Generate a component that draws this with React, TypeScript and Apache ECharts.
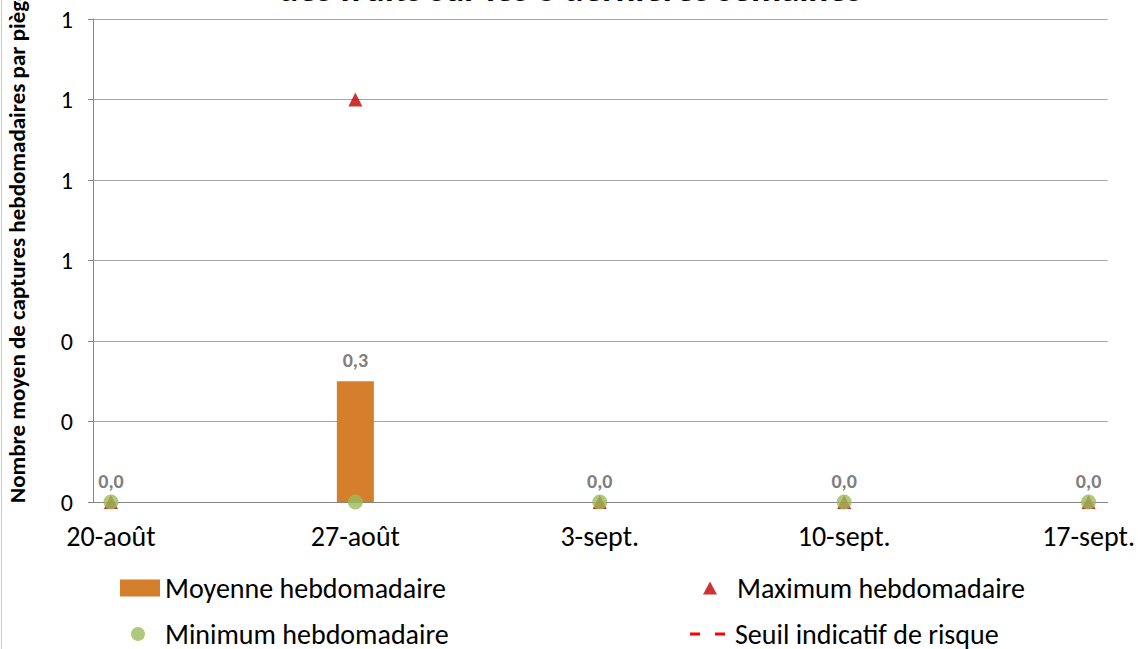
import React, { useEffect, useRef } from "react";
import * as echarts from "echarts";

const categories = ["20-août", "27-août", "3-sept.", "10-sept.", "17-sept."];
const moyenne = [0, 0.3, 0, 0, 0];
const maximum = [0, 1, 0, 0, 0];
const minimum = [0, 0, 0, 0, 0];
const seuil: (number | null)[] = [null, null, null, null, null];
const yTicks = [0, 0.2, 0.4, 0.6, 0.8, 1.0, 1.2];

const FONT = "Carlito, Lato, 'Liberation Sans', sans-serif";
const LEG_TEXT = { fontSize: 28, lineHeight: 30, color: "#000", fontFamily: FONT };

export default function App() {
  const ref = useRef<HTMLDivElement>(null);
  useEffect(() => {
    if (!ref.current) return;
    const chart = echarts.init(ref.current, undefined, { renderer: "svg" });
    const pts = (arr: (number | null)[]) => arr.map((v, i) => [i, v]);
    chart.setOption({
      animation: false,
      backgroundColor: "#ffffff",
      textStyle: { fontFamily: FONT },
      grid: { left: 93, right: 30, top: 19, bottom: 147, containLabel: false },
      xAxis: {
        type: "value",
        min: -0.0735,
        max: 4.078,
        splitLine: { show: false },
        axisLine: { show: true, onZero: false, lineStyle: { color: "#868686", width: 1 } },
        axisTick: { show: false },
        axisLabel: {
          customValues: categories.map((_, i) => i),
          formatter: (v: number) => categories[Math.round(v)] ?? "",
          color: "#000000",
          fontSize: 28,
          fontFamily: FONT,
          margin: 20,
        },
      },
      yAxis: {
        type: "value",
        min: yTicks[0],
        max: yTicks[yTicks.length - 1],
        interval: 0.2,
        axisLine: { show: true, onZero: false, lineStyle: { color: "#868686", width: 1 } },
        axisTick: { show: true, length: 5, lineStyle: { color: "#868686" } },
        splitLine: { show: true, lineStyle: { color: "#a6a6a6", width: 1 } },
        axisLabel: {
          formatter: (v: number) => String(Math.round(v)),
          color: "#000000",
          fontSize: 24,
          fontFamily: FONT,
          margin: 20,
        },
      },
      legend: [
        {
          left: 120,
          top: 573,
          padding: 0,
          itemWidth: 40,
          itemHeight: 17,
          textStyle: LEG_TEXT,
          data: [{ name: "Moyenne hebdomadaire", icon: "rect" }],
        },
        {
          left: 131,
          top: 619,
          padding: 0,
          itemWidth: 14,
          itemHeight: 14,
          textStyle: { ...LEG_TEXT, padding: [0, 0, 0, 15] },
          data: [{ name: "Minimum hebdomadaire", icon: "circle" }],
        },
        {
          left: 703,
          top: 573,
          padding: 0,
          itemWidth: 14,
          itemHeight: 13,
          textStyle: { ...LEG_TEXT, padding: [0, 0, 0, 15] },
          data: [{ name: "Maximum hebdomadaire", icon: "triangle" }],
        },
        {
          left: 690,
          top: 619,
          padding: 0,
          itemWidth: 35,
          itemHeight: 3,
          textStyle: { ...LEG_TEXT, padding: [0, 0, 0, 5] },
          data: [{ name: "Seuil indicatif de risque", icon: "path://M0,0h10v3h-10z M25,0h10v3h-10z" }],
        },
      ],
      graphic: [
        {
          type: "line",
          shape: { x1: 1.5, y1: 0, x2: 1.5, y2: 649 },
          style: { stroke: "#c8c8c8", lineWidth: 1 },
        },
        {
          type: "text",
          x: 570,
          y: 7,
          style: {
            text: "des fruits sur les 3 dernières semaines",
            font: `bold 37px ${FONT}`,
            fill: "#000",
            align: "center",
            verticalAlign: "bottom",
          },
        },
        {
          type: "text",
          x: 17,
          y: 503,
          rotation: Math.PI / 2,
          style: {
            text: "Nombre moyen de captures hebdomadaires par piège",
            font: `bold 23px ${FONT}`,
            fill: "#000",
            align: "left",
            verticalAlign: "middle",
          },
        },
      ],
      series: [
        {
          name: "Moyenne hebdomadaire",
          type: "bar",
          data: pts(moyenne),
          barWidth: 37,
          itemStyle: { color: "#d57e2c" },
          label: {
            show: true,
            position: "top",
            distance: 11,
            formatter: (p: any) => Number(p.value[1]).toFixed(1).replace(".", ","),
            color: "#808080",
            fontWeight: "bold",
            fontSize: 20,
            fontFamily: FONT,
          },
          z: 2,
        },
        {
          name: "Maximum hebdomadaire",
          type: "scatter",
          data: pts(maximum),
          symbol: "triangle",
          symbolSize: [14, 14],
          itemStyle: { color: "#c00000" },
          z: 3,
        },
        {
          name: "Minimum hebdomadaire",
          type: "scatter",
          data: pts(minimum),
          symbol: "circle",
          symbolSize: 15,
          itemStyle: { color: "#9bbb59" },
          z: 4,
        },
        {
          name: "Seuil indicatif de risque",
          type: "line",
          data: pts(seuil),
          symbol: "none",
          itemStyle: { color: "#ff0000" },
          lineStyle: { color: "#ff0000", type: "dashed", width: 3 },
          z: 5,
        },
      ],
    });
    return () => chart.dispose();
  }, []);
  return (
    <div
      ref={ref}
      style={{ position: "fixed", left: 0, top: 0, width: 1138, height: 649, background: "#fff" }}
    />
  );
}
